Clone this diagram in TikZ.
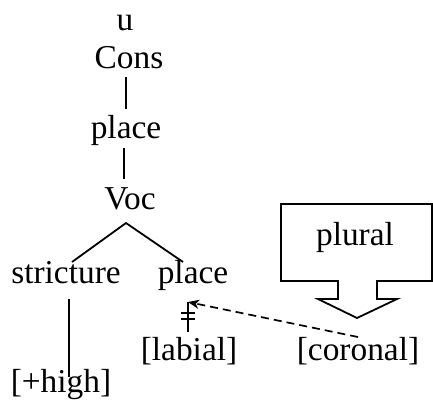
\documentclass[tikz,border=0pt]{standalone}
\usepackage{fontspec}
\setmainfont{Liberation Serif}
\usetikzlibrary{arrows.meta}
\begin{document}
\begin{tikzpicture}[x=1bp,y=-1bp,
  lbl/.style={inner sep=0pt,anchor=base,font=\fontsize{33.5}{40}\selectfont},
  edge/.style={line width=1.8bp},
  dashline/.style={line width=1.7bp,dash pattern=on 8bp off 5bp,-{Stealth[length=11bp,width=9bp,inset=3bp]}}]
\useasboundingbox (0,0) rectangle (433,402);
\node[lbl] (u) at (125,30) {u};
\node[lbl] (cons) at (129,68) {Cons};
\node[lbl] (place1) at (126,138) {place};
\node[lbl] (voc) at (130,209) {Voc};
\node[lbl] (stric) at (66,283) {stricture};
\node[lbl] (place2) at (193,283) {place};
\node[lbl] (high) at (61,392) {[+high]};
\node[lbl] (labial) at (189,360) {[labial]};
\node[lbl] (coronal) at (358,360) {[coronal]};
% plural box arrow
\draw[edge,line join=miter] (281,204) -- (432,204) -- (432,281) -- (377,281) -- (377,299) -- (397,299)
  -- (357,318) -- (318,299) -- (338,299) -- (338,281) -- (281,281) -- cycle;
\node[lbl] (plural) at (355,245) {plural};
% tree edges
\draw[edge] ([shift={(-3,9)}]cons.base) -- ([shift={(0,-29)}]place1.base);
\draw[edge] ([shift={(-2,10)}]place1.base) -- ([shift={(-6,-30)}]voc.base);
\coordinate (apex) at ([shift={(-4,14)}]voc.base);
\draw[edge] ([shift={(6,-21)}]stric.base) -- (apex) -- ([shift={(-10,-21)}]place2.base);
\draw[edge] ([shift={(3,16)}]stric.base) -- ([shift={(8,-15)}]high.base);
\coordinate (ptop) at ([shift={(-5,19)}]place2.base);
\draw[edge] (ptop) -- ([shift={(-1,-28)}]labial.base);
\coordinate (blk) at ([shift={(-5,33)}]place2.base);
\draw[edge] ([shift={(-7,-3)}]blk) -- ([shift={(7,-3)}]blk);
\draw[edge] ([shift={(-7,3)}]blk) -- ([shift={(7,3)}]blk);
\draw[dashline] ([shift={(0,-23)}]coronal.base) -- (ptop);
\end{tikzpicture}
\end{document}
